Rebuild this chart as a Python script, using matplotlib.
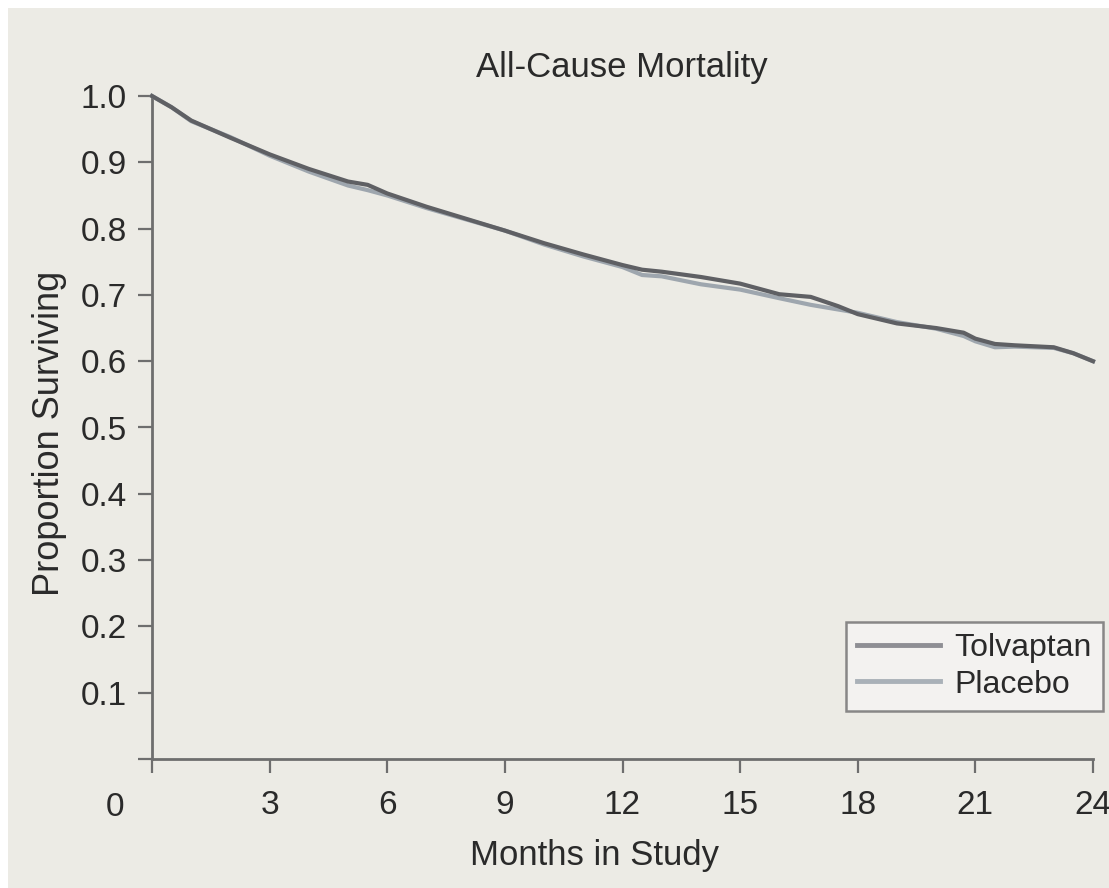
import matplotlib
matplotlib.use("Agg")
import matplotlib.pyplot as plt
from matplotlib.patches import Rectangle

# Kaplan-Meier survival estimates by month
months = [0, 0.5, 1, 1.5, 2, 3, 4, 5, 5.5, 6, 7, 8, 9, 10, 11, 12, 12.5, 13, 14, 15,
          16, 16.8, 17.5, 18, 19, 20, 20.7, 21, 21.5, 22, 23, 23.5, 24]
tolvaptan = [1.0, 0.983, 0.963, 0.950, 0.937, 0.912, 0.890, 0.871, 0.866, 0.853, 0.833,
             0.815, 0.797, 0.778, 0.761, 0.745, 0.738, 0.735, 0.727, 0.717, 0.701, 0.697,
             0.683, 0.671, 0.657, 0.650, 0.643, 0.634, 0.626, 0.624, 0.621, 0.612, 0.600]
placebo = [1.0, 0.983, 0.962, 0.950, 0.938, 0.910, 0.886, 0.865, 0.858, 0.850, 0.831,
           0.814, 0.797, 0.776, 0.758, 0.742, 0.730, 0.728, 0.716, 0.708, 0.695, 0.685,
           0.678, 0.673, 0.659, 0.649, 0.638, 0.630, 0.621, 0.622, 0.620, 0.612, 0.600]

x_ticks = [0, 3, 6, 9, 12, 15, 18, 21, 24]
x_tick_labels = ["", "3", "6", "9", "12", "15", "18", "21", "24"]
y_ticks = [0, 0.1, 0.2, 0.3, 0.4, 0.5, 0.6, 0.7, 0.8, 0.9, 1.0]
y_tick_labels = ["", "0.1", "0.2", "0.3", "0.4", "0.5", "0.6", "0.7", "0.8", "0.9", "1.0"]

plt.rcParams["font.family"] = ["Liberation Sans", "DejaVu Sans"]

W, H = 1109, 888
bg = "#ecebe5"
fig = plt.figure(figsize=(W / 100, H / 100), dpi=100, facecolor="white")
fig.patches.append(Rectangle((8 / W, 0), 1 - 8 / W, 1 - 8 / H, transform=fig.transFigure,
                             facecolor=bg, edgecolor="none", zorder=-10))

ax = fig.add_axes([152 / W, (H - 759) / H, (1093 - 152) / W, (759 - 96) / H])
ax.set_facecolor("none")
ax.set_zorder(1)

text_col = "#2a2a2a"
axis_col = "#6e6e6e"

ax.plot(months, placebo, color="#9ea6ae", lw=3.0, label="Placebo", clip_on=False, zorder=3)
ax.plot(months, tolvaptan, color="#5f6064", lw=3.0, label="Tolvaptan", clip_on=False, zorder=4)

ax.set_xlim(0, 24)
ax.set_ylim(0, 1.0)

for s in ("top", "right"):
    ax.spines[s].set_visible(False)
for s in ("left", "bottom"):
    ax.spines[s].set_color(axis_col)
    ax.spines[s].set_linewidth(2.0)

ax.set_xticks(x_ticks)
ax.set_xticklabels(x_tick_labels)
ax.set_yticks(y_ticks)
ax.set_yticklabels(y_tick_labels)
ax.tick_params(axis="both", direction="out", length=10, width=1.6, color=axis_col,
               labelsize=24, labelcolor=text_col)
ax.tick_params(axis="x", pad=12)
ax.tick_params(axis="y", pad=8)

ax.text(115 / W, 1 - 807 / H, "0", transform=fig.transFigure, fontsize=24,
        color=text_col, ha="center", va="center")

fig.text(622 / W, 1 - 68 / H, "All-Cause Mortality", fontsize=25, color=text_col,
         ha="center", va="center")
fig.text(50 / W, 1 - 433 / H, "Proportion Surviving", fontsize=26, color=text_col,
         ha="center", va="center", rotation=90)
fig.text(594 / W, 1 - 855 / H, "Months in Study", fontsize=25, color=text_col,
         ha="center", va="center")

handles, labels = ax.get_legend_handles_labels()
order = [1, 0]
leg = ax.legend([handles[i] for i in order], [labels[i] for i in order],
                loc="upper right", bbox_to_anchor=(1103 / W, 1 - 622 / H),
                bbox_transform=fig.transFigure, fontsize=23, frameon=True,
                fancybox=False, handlelength=2.6, handletextpad=0.45,
                borderpad=0.35, borderaxespad=0, labelspacing=0.2)
leg.get_frame().set_edgecolor("#6e6e6e")
leg.get_frame().set_linewidth(1.8)
leg.get_frame().set_facecolor("#f5f5f3")
for line in leg.get_lines():
    line.set_linewidth(3.5)
leg.get_lines()[0].set_color("#8e8f94")
leg.get_lines()[1].set_color("#a9b1b8")
for t in leg.get_texts():
    t.set_color(text_col)

fig.savefig("out.png", dpi=100, facecolor=fig.get_facecolor())
